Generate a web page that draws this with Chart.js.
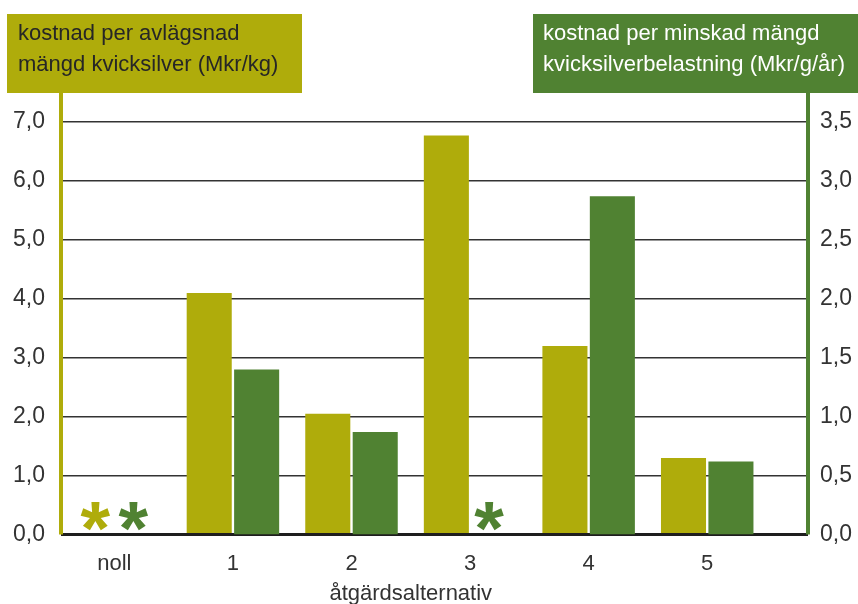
<!DOCTYPE html>
<html>
<head>
<meta charset="utf-8">
<script src="https://cdn.jsdelivr.net/npm/chart.js@4"></script>
<style>
  body { margin: 0; background: #fff; }
  #wrap { width: 858px; height: 604px; }
</style>
</head>
<body>
<div id="wrap"><canvas id="chart" width="858" height="604"></canvas></div>
<script>
// data
var categories = ['noll', '1', '2', '3', '4', '5'];
var costPerKg = [null, 4.1, 2.05, 6.77, 3.2, 1.3];          // left axis, Mkr/kg
var costPerGramYear = [null, 1.4, 0.87, null, 2.87, 0.62];  // right axis, Mkr/g/år
var leftTicks = [0, 1, 2, 3, 4, 5, 6, 7];
var rightTicks = [0, 0.5, 1, 1.5, 2, 2.5, 3, 3.5];
var leftTitle = ['kostnad per avlägsnad', 'mängd kvicksilver (Mkr/kg)'];
var rightTitle = ['kostnad per minskad mängd', 'kvicksilverbelastning (Mkr/g/år)'];
var xTitle = 'åtgärdsalternativ';

var OLIVE = '#afac0b';
var GREEN = '#508232';
var FONT = '"Liberation Sans", Arial, sans-serif';

function comma(v) {
    return v.toFixed(1).replace('.', ',');
}

var extras = {
    id: 'extras',
    afterDraw: function(chart) {
        var ctx = chart.ctx;
        var area = chart.chartArea;
        var x = chart.scales.x;
        ctx.save();

        // vertical axis lines running up to the title boxes
        ctx.fillStyle = OLIVE;
        ctx.fillRect(area.left - 2, 93, 4, area.bottom - 93);
        ctx.fillStyle = GREEN;
        ctx.fillRect(area.right - 2, 93, 4, area.bottom - 93);

        // title boxes
        ctx.fillStyle = OLIVE;
        ctx.fillRect(7, 14, 295, 79);
        ctx.fillStyle = GREEN;
        ctx.fillRect(533, 14, 325, 79);
        ctx.font = '22px ' + FONT;
        ctx.textAlign = 'left';
        ctx.textBaseline = 'alphabetic';
        ctx.fillStyle = '#262626';
        ctx.fillText(leftTitle[0], 18, 40);
        ctx.fillText(leftTitle[1], 18, 71);
        ctx.fillStyle = '#ffffff';
        ctx.fillText(rightTitle[0], 543, 40);
        ctx.fillText(rightTitle[1], 543, 71);

        // asterisks where there is no value
        ctx.font = 'bold 76px ' + FONT;
        ctx.textAlign = 'center';
        var m = ctx.measureText('*');
        var yBase = 516 + (m.actualBoundingBoxAscent - m.actualBoundingBoxDescent) / 2;
        chart.data.datasets.forEach(function(ds, d) {
            var off = d === 0 ? -0.16 : 0.16;
            ds.data.forEach(function(p, i) {
                if (p.y === null) {
                    ctx.fillStyle = ds.backgroundColor;
                    ctx.fillText('*', x.getPixelForValue(i + off), yBase);
                }
            });
        });

        // x axis title, centred under the categories
        ctx.font = '22px ' + FONT;
        ctx.fillStyle = '#333';
        ctx.textBaseline = 'middle';
        var mid = (x.getPixelForValue(-0.5) + x.getPixelForValue(categories.length - 0.5)) / 2;
        ctx.fillText(xTitle, mid, 594);
        ctx.restore();
    }
};

new Chart(document.getElementById('chart'), {
    type: 'bar',
    data: {
        datasets: [{
            label: leftTitle.join(' '),
            data: costPerKg.map(function(v, i) { return { x: i, y: v }; }),
            backgroundColor: OLIVE,
            yAxisID: 'y',
            categoryPercentage: 0.8,
            barPercentage: 0.95
        }, {
            label: rightTitle.join(' '),
            data: costPerGramYear.map(function(v, i) { return { x: i, y: v }; }),
            backgroundColor: GREEN,
            yAxisID: 'y2',
            categoryPercentage: 0.8,
            barPercentage: 0.95
        }]
    },
    options: {
        responsive: false,
        animation: false,
        layout: { padding: { top: 122, bottom: 0, left: 0, right: 0 } },
        plugins: { legend: { display: false }, tooltip: { enabled: false } },
        scales: {
            x: {
                type: 'linear',
                offset: false,
                min: -0.45,
                max: 5.85,
                grid: { display: false, offset: false },
                border: { display: false },
                afterBuildTicks: function(scale) {
                    scale.ticks = categories.map(function(c, i) { return { value: i }; });
                },
                afterFit: function(scale) { scale.height = 69.5; },
                ticks: {
                    padding: 8,
                    color: '#333',
                    font: { family: FONT, size: 22 },
                    callback: function(v) { return categories[v]; }
                }
            },
            y: {
                position: 'left',
                min: 0,
                max: 7,
                afterBuildTicks: function(scale) {
                    scale.ticks = leftTicks.map(function(v) { return { value: v }; });
                },
                afterFit: function(scale) { scale.width = 61; },
                border: { display: false },
                grid: {
                    drawTicks: false,
                    color: function(c) { return c.tick.value === 0 ? '#1e1e1e' : '#333'; },
                    lineWidth: function(c) { return c.tick.value === 0 ? 3 : 1.5; }
                },
                ticks: {
                    padding: 16,
                    color: '#333',
                    font: { family: FONT, size: 23 },
                    callback: function(v) { return comma(v); }
                }
            },
            y2: {
                position: 'right',
                min: 0,
                max: 3.5,
                afterBuildTicks: function(scale) {
                    scale.ticks = rightTicks.map(function(v) { return { value: v }; });
                },
                afterFit: function(scale) { scale.width = 50; },
                border: { display: false },
                grid: { display: false, drawTicks: false },
                ticks: {
                    padding: 12,
                    color: '#333',
                    font: { family: FONT, size: 23 },
                    callback: function(v) { return comma(v); }
                }
            }
        }
    },
    plugins: [extras]
});
</script>
</body>
</html>
